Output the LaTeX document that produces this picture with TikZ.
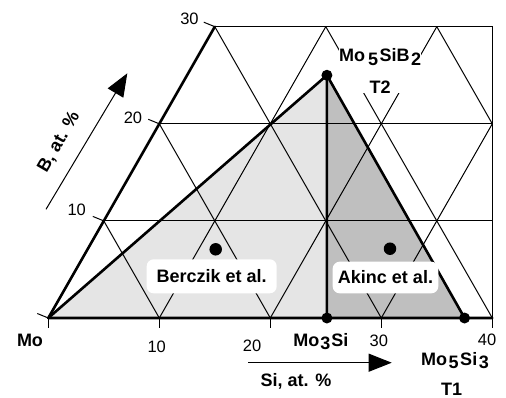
\documentclass[tikz,border=0pt]{standalone}
\usepackage{fontspec}
\setmainfont{Liberation Sans}
\usetikzlibrary{arrows.meta}
\definecolor{lightfill}{gray}{0.9}
\definecolor{darkfill}{gray}{0.75}
\begin{document}
\begin{tikzpicture}[x=1pt,y=-1pt,
  gridline/.style={line width=1pt},
  boldline/.style={line width=2.6pt, line join=round, line cap=round},
  dot/.style={circle, fill=black, inner sep=0pt, minimum size=11pt},
  bigdot/.style={dot, minimum size=12.5pt},
  lbl/.style={font=\fontsize{18}{21}\selectfont\bfseries, inner sep=0pt},
  num/.style={font=\fontsize{16.5}{19}\selectfont, inner sep=0pt},
  refbox/.style={lbl, fill=white, rounded corners=7pt},
  axarrow/.style={line width=1pt, -{Triangle[length=23pt,width=18pt]}},
]
\useasboundingbox (0,0) rectangle (506,397);
\begin{scope}[shift={(48.3,318)}, x={(11.1pt,0pt)}, y={(5.55pt,9.71pt)}]
  \coordinate (Mo) at (0,0);
  \coordinate (apex) at (0,30);
  \coordinate (topright) at (25,30);
  \coordinate (br) at (40,0);
  \coordinate (pT2) at (12.6,25);
  \coordinate (pM3) at (25.1,0);
  \coordinate (pT1) at (37.5,0);
  \fill[lightfill] (Mo) -- (pT2) -- (pM3) -- cycle;
  \fill[darkfill] (pM3) -- (pT2) -- (pT1) -- cycle;
  \begin{scope}
    \clip (Mo) -- (apex) -- (topright) -- (br) -- cycle;
    \foreach \b in {10,20} \draw[gridline] (0,\b) -- (40,\b);
    \foreach \s in {10,20,30} \draw[gridline] (\s,0) -- (\s,30);
    \foreach \c in {10,20,30,40,50} \draw[gridline] (\c,0) -- ({\c-30},30);
  \end{scope}
  \draw[gridline] (apex) -- (topright) -- (br);
  \foreach \s in {0,10,20,30,40} \draw[gridline] (\s,0) -- ++(0pt,-10pt);
  \foreach \b in {0,10,20,30} \draw[gridline] (0,\b) -- ++(-11pt,4.5pt);
  \draw[boldline] (apex) -- (Mo) -- (br);
  \draw[boldline] (Mo) -- (pT2) -- (pM3);
  \draw[boldline] (pT2) -- (pT1);
  \node[dot] (t2dot) at (pT2) {};
  \node[dot] (m3dot) at (pM3) {};
  \node[dot] (t1dot) at (pT1) {};
\end{scope}

% tick numbers
\node[num] (n30) at (189.5,19) {30};
\node[num] (n20) at (133,117.5) {20};
\node[num] (n10) at (76.7,210) {10};
\node[num] (s10) at (156.7,346.5) {10};
\node[num] (s20) at (252,346) {20};
\node[num] (s30) at (378.8,341) {30};
\node[num] (s40) at (487,339.5) {40};

% reference alloys
\node[bigdot] (bdot) at (215.7,249.3) {};
\node[bigdot] (adot) at (390,248.7) {};
\node[refbox, minimum width=130pt, minimum height=34pt] (berczik) at (211.7,276.3) {Berczik et al.};
\node[refbox, minimum width=105.6pt, minimum height=31.6pt] (akinc) at (385.5,277.5) {Akinc et al.};

% phase labels
\node[lbl, fill=white, align=center, anchor=north] (t2lbl) at (380.2,48)
  {Mo\hspace{3pt}\raisebox{-4.5pt}{5}\hspace{1.5pt}SiB\hspace{1.5pt}\raisebox{-4.5pt}{2}\\[11pt]T2};
\node[lbl, anchor=base] (molbl) at (30,346) {Mo};
\node[lbl, anchor=base] (m3lbl) at (320.8,346.3) {Mo\hspace{1pt}\raisebox{-3pt}{3}\hspace{1pt}Si};
\node[lbl, anchor=base] (t1lbl) at (455,365) {Mo\hspace{1.5pt}\raisebox{-3.5pt}{5}\hspace{1.5pt}Si\hspace{1.5pt}\raisebox{-3.5pt}{3}};
\node[lbl, anchor=base] (t1name) at (451.7,395.8) {T1};

% axis arrows
\coordinate (siS) at (248,362.7);
\coordinate (siE) at (391.7,362.7);
\draw[axarrow] (siS) -- (siE);
\node[lbl] (silbl) at (296,381.5) {Si, at. \%};
\coordinate (bS) at (46,209.3);
\coordinate (bE) at (127.3,73.3);
\draw[axarrow] (bS) -- (bE);
\node[lbl, rotate=60] (blbl) at (59,142) {B, at. \%};
\end{tikzpicture}
\end{document}
